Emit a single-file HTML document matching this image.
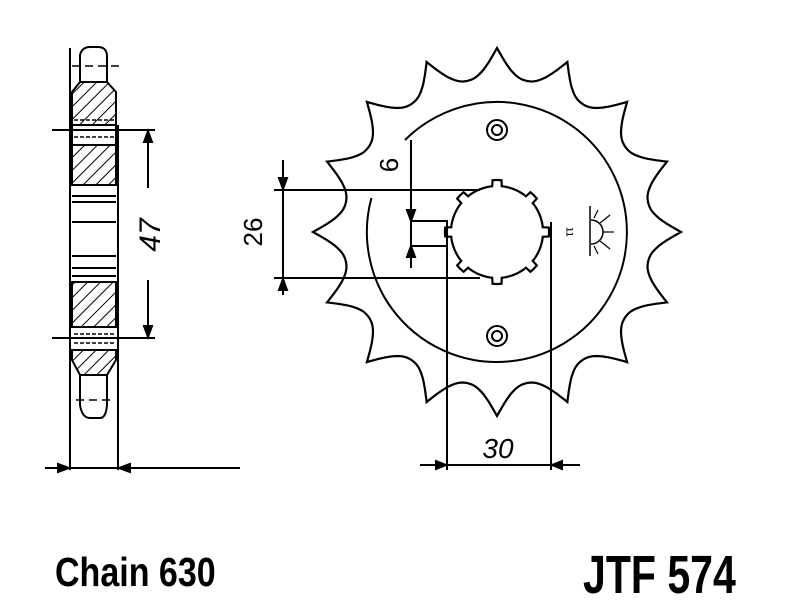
<!DOCTYPE html>
<html><head><style>
body{margin:0;background:#fff;width:800px;height:600px;overflow:hidden}
svg{position:absolute;left:0;top:0}
</style></head><body>
<svg width="800" height="600" viewBox="0 0 800 600" stroke="#000" fill="none" stroke-width="2">
<defs>
<pattern id="h" width="9" height="9" patternUnits="userSpaceOnUse" patternTransform="rotate(45)">
<line x1="0" y1="0" x2="0" y2="9" stroke="#000" stroke-width="2"/>
</pattern>
</defs>
<!-- side view -->
<path d="M80,82 L80,55 Q82,47 90,47 L98,47 Q106,47 107,55 L107,82"/>
<line x1="72" y1="66" x2="122" y2="66" stroke-dasharray="8,5" stroke-width="1.5"/>
<path d="M80,82 L72,92 L72,125 L116,125 L116,92 L107,82 Z" fill="url(#h)"/>
<rect x="72" y="125" width="44" height="20"/>
<line x1="74" y1="120" x2="114" y2="120" stroke-dasharray="4,2" stroke-width="1.5"/>
<line x1="74" y1="137" x2="114" y2="137" stroke-dasharray="4,2" stroke-width="1.5"/>
<rect x="72" y="145" width="44" height="40" fill="url(#h)"/>
<line x1="72" y1="185" x2="116" y2="185"/>
<line x1="72" y1="196" x2="116" y2="196"/>
<line x1="72" y1="202" x2="116" y2="202"/>
<line x1="72" y1="222" x2="116" y2="222"/>
<line x1="72" y1="256" x2="116" y2="256"/>
<line x1="72" y1="268" x2="116" y2="268"/>
<line x1="72" y1="276" x2="116" y2="276"/>
<line x1="72" y1="282" x2="116" y2="282"/>
<rect x="72" y="282" width="44" height="45" fill="url(#h)"/>
<line x1="74" y1="334" x2="114" y2="334" stroke-dasharray="4,2" stroke-width="1.5"/>
<line x1="74" y1="343" x2="114" y2="343" stroke-dasharray="4,2" stroke-width="1.5"/>
<path d="M72,350 L72,360 L80,375 L107,375 L116,360 L116,350 Z" fill="url(#h)"/>
<path d="M80,375 L80,405 Q82,418 90,418 L100,418 Q106,418 107,405 L107,375"/>
<line x1="76" y1="400" x2="112" y2="400" stroke-dasharray="8,5" stroke-width="1.5"/>
<line x1="70" y1="48" x2="70" y2="470"/>
<line x1="118" y1="125" x2="118" y2="470"/>
<line x1="52" y1="130" x2="155" y2="130"/>
<line x1="52" y1="338" x2="155" y2="338"/>
<line x1="148" y1="132" x2="148" y2="188"/>
<line x1="148" y1="280" x2="148" y2="336"/>
<path d="M144,142 L148,131 L152,142 Z" fill="#000"/>
<path d="M144,326 L148,337 L152,326 Z" fill="#000"/>
<text x="0" y="0" transform="translate(160,235) rotate(-90)" text-anchor="middle" font-family="Liberation Sans,sans-serif" font-size="30" fill="#000" stroke="none" font-style="italic">47</text>
<line x1="45" y1="468" x2="240" y2="468"/>
<path d="M58,464 L69,468 L58,472 Z" fill="#000"/>
<path d="M130,464 L119,468 L130,472 Z" fill="#000"/>

<!-- sprocket -->
<path id="sp" stroke-width="2.2"/>
<path d="M371.4,198 A130,130 0 1 0 405,140"/>
<circle cx="497" cy="130" r="10"/><circle cx="497" cy="130" r="5"/>
<circle cx="497" cy="336" r="10"/><circle cx="497" cy="336" r="5"/>
<path id="bore" stroke-width="2.2"/>
<!-- dims -->
<line x1="274" y1="190" x2="480" y2="190"/>
<line x1="274" y1="278" x2="480" y2="278"/>
<line x1="283" y1="160" x2="283" y2="295"/>
<path d="M279,178 L283,189 L287,178 Z" fill="#000"/>
<path d="M279,290 L283,279 L287,290 Z" fill="#000"/>
<text transform="translate(262,232) rotate(-90)" text-anchor="middle" font-family="Liberation Sans,sans-serif" font-size="26" fill="#000" stroke="none">26</text>
<line x1="411" y1="140" x2="411" y2="268"/>
<line x1="411" y1="221" x2="448" y2="221"/>
<line x1="411" y1="246" x2="448" y2="246"/>
<path d="M407,210 L411,221 L415,210 Z" fill="#000"/>
<path d="M407,257 L411,246 L415,257 Z" fill="#000"/>
<text transform="translate(398,165) rotate(-90)" text-anchor="middle" font-family="Liberation Sans,sans-serif" font-size="26" fill="#000" stroke="none">6</text>
<line x1="447" y1="221" x2="447" y2="470"/>
<line x1="551" y1="222" x2="551" y2="470"/>
<line x1="420" y1="465" x2="580" y2="465"/>
<path d="M436,461 L446,465 L436,469 Z" fill="#000"/>
<path d="M562,461 L552,465 L562,469 Z" fill="#000"/>
<text x="498" y="458" text-anchor="middle" font-family="Liberation Sans,sans-serif" font-size="28" font-style="italic" fill="#000" stroke="none">30</text>
<!-- small symbol -->
<line x1="590" y1="206" x2="590" y2="256" stroke-width="1.5"/>
<path d="M591,220 A12,12 0 0 1 591,244" stroke-width="1.5"/>
<g stroke-width="1.2"><line x1="603" y1="232" x2="614" y2="232"/><line x1="600" y1="223" x2="610" y2="215"/><line x1="600" y1="241" x2="610" y2="249"/><line x1="594" y1="218" x2="598" y2="210"/><line x1="594" y1="246" x2="598" y2="254"/></g>
<text transform="translate(573,232) rotate(-90)" text-anchor="middle" font-family="Liberation Sans,sans-serif" font-size="12" fill="#000" stroke="none">ττ</text>

<text transform="translate(55,586) scale(0.83,1)" font-family="Liberation Sans,sans-serif" font-weight="bold" font-size="41" fill="#000" stroke="none">Chain 630</text>
<text transform="translate(583,593) scale(0.76,1)" font-family="Liberation Sans,sans-serif" font-weight="bold" font-size="54" fill="#000" stroke="none">JTF 574</text>
</svg>
<script>
(function(){
var cx=497,cy=232,N=16,d="";
for(var k=0;k<=N*40;k++){
 var a=k/(N*40)*2*Math.PI; var t=(a/(2*Math.PI))*N; var u=t-Math.round(t); u=Math.abs(u)*2;
 var r=154+30*Math.pow(1-u,2.2);
 var ang=a-Math.PI/2;
 var x=cx+r*Math.cos(ang),y=cy+r*Math.sin(ang);
 d+=(k?"L":"M")+x.toFixed(1)+","+y.toFixed(1);
}
document.getElementById("sp").setAttribute("d",d+"Z");
var b="";
for(var k=0;k<=360;k++){
 var a=k*Math.PI/180; var t=(a/(2*Math.PI))*8; var u=Math.abs(t-Math.round(t));
 var r=u<0.12?52:46;
 b+=(k?"L":"M")+(cx+r*Math.cos(a)).toFixed(1)+","+(cy+r*Math.sin(a)).toFixed(1);
}
document.getElementById("bore").setAttribute("d",b+"Z");
})();
</script>
</body></html>
